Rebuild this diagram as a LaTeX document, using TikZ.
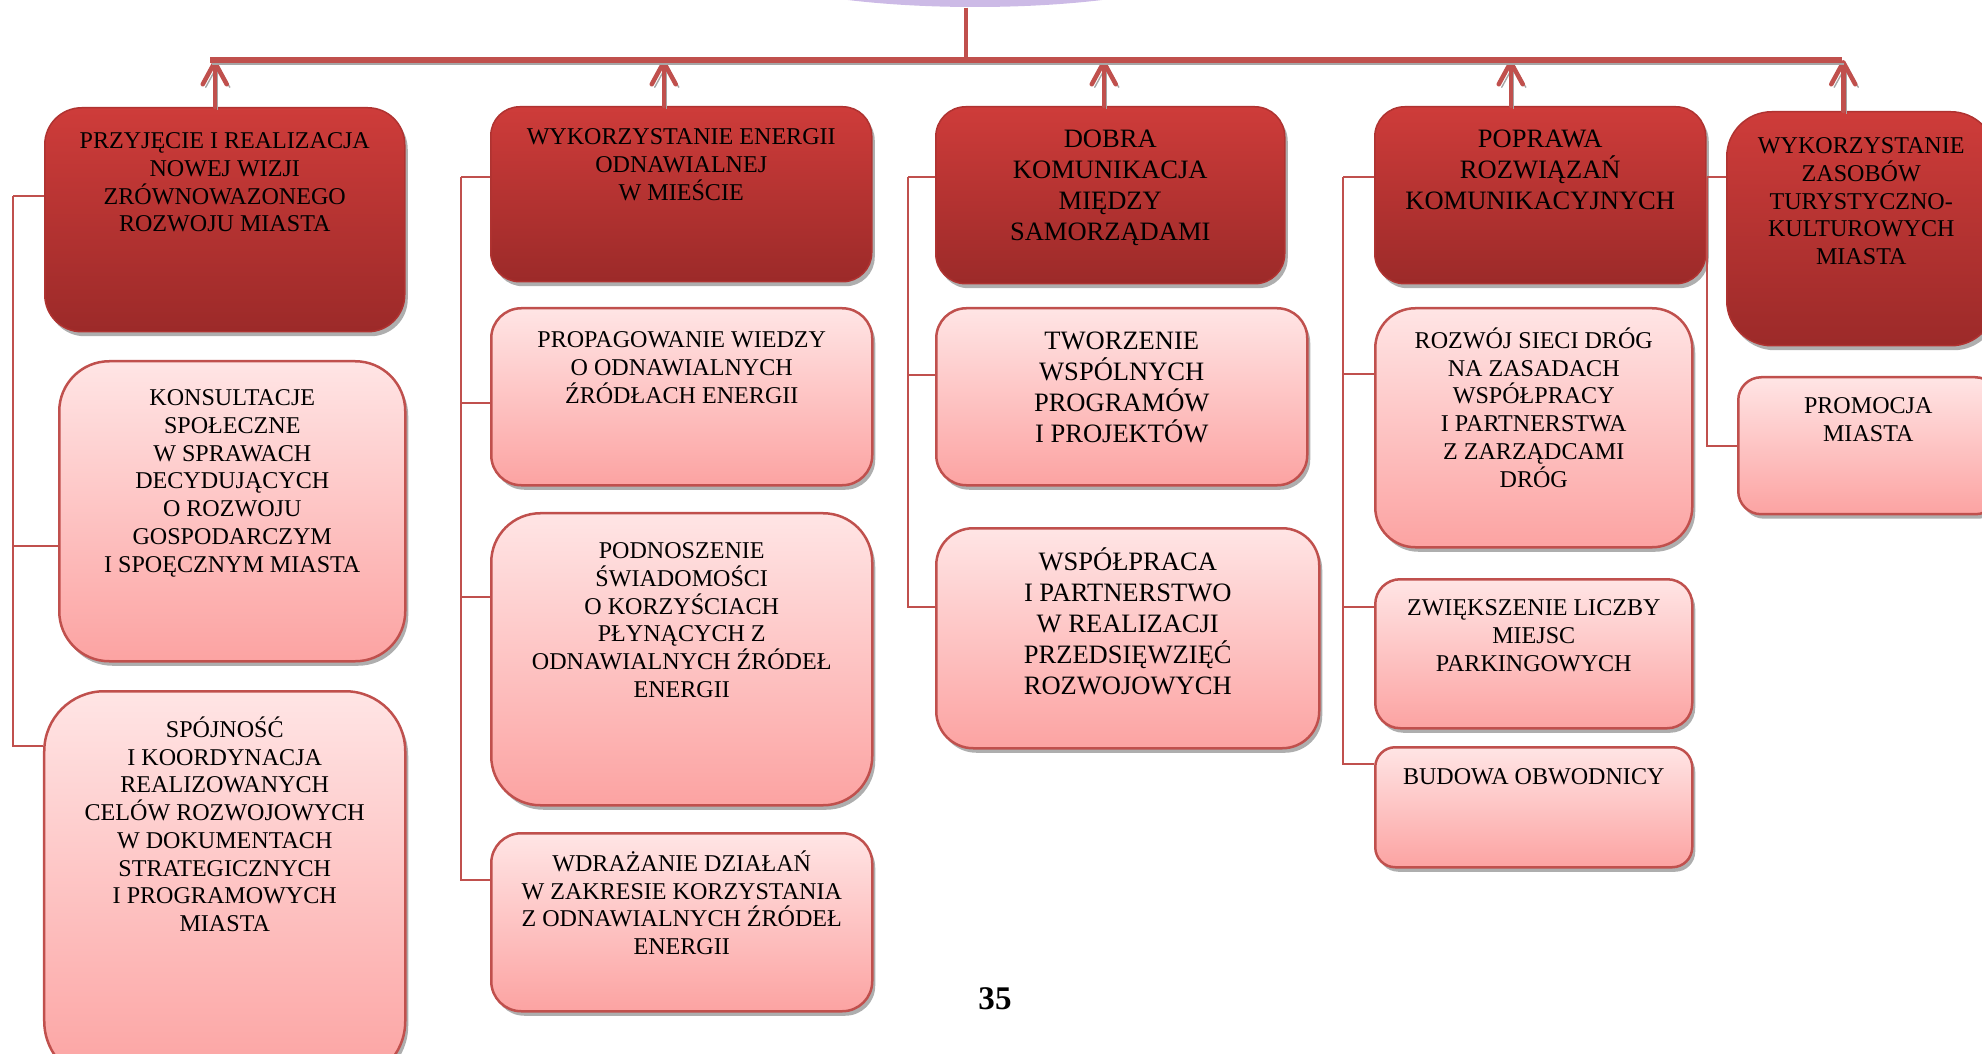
\documentclass[tikz,border=0pt]{standalone}
\usepackage{fontspec}
\setmainfont{Liberation Serif}
\usetikzlibrary{positioning,shadows,arrows.meta,shapes.geometric}
\definecolor{linered}{RGB}{192,80,77}
\definecolor{hdrtop}{RGB}{206,60,58}
\definecolor{hdrbot}{RGB}{156,42,41}
\definecolor{subtop}{RGB}{255,229,229}
\definecolor{subbot}{RGB}{252,163,162}
\definecolor{lilac}{RGB}{204,186,230}
\newcommand{\smallfont}{\fontsize{6.85}{7.9}\selectfont}
\newcommand{\bigfont}{\fontsize{7.55}{8.8}\selectfont}
\tikzset{
  box/.style={rectangle, anchor=north west, inner sep=0pt,
    drop shadow={shadow xshift=0.3mm, shadow yshift=-0.45mm, fill=black!45, opacity=0.7}},
  hdr/.style={box, draw=hdrtop!85!black, line width=0.15mm, top color=hdrtop, bottom color=hdrbot},
  sub/.style={box, draw=linered, line width=0.25mm, top color=subtop, bottom color=subbot},
  txt/.style={inner sep=0pt, align=center, font=\smallfont},
  bigtxt/.style={txt, font=\bigfont},
  link/.style={draw=linered, line width=0.2mm},
  stem/.style={draw=linered, line width=0.45mm},
  bar/.style={draw=linered, line width=0.6mm,
    preaction={draw=black!35, transform canvas={shift={(0.2mm,-0.4mm)}}}},
  up/.style={stem, line cap=round, -{Straight Barb[length=2.2mm,width=2.4mm,round]},
    preaction={draw=black!35, transform canvas={shift={(0.3mm,-0.3mm)}}}},
}
\begin{document}
\begin{tikzpicture}
\useasboundingbox (0,0) rectangle (19.82,-10.54);
% top
\node[ellipse, fill=lilac, inner sep=0pt, minimum width=4.98cm, minimum height=1cm] (root) at (9.75,0.43) {};
\coordinate (barL) at (2.10,-0.60);
\coordinate (barR) at (18.42,-0.60);

% headers
\node[hdr, minimum width=3.60cm, minimum height=2.24cm, rounded corners=3.7mm] (b1) at (0.44,-1.07) {};
\node[hdr, minimum width=3.81cm, minimum height=1.75cm, rounded corners=2.9mm] (b2) at (4.90,-1.06) {};
\node[hdr, minimum width=3.49cm, minimum height=1.77cm, rounded corners=3.0mm] (b3) at (9.35,-1.06) {};
\node[hdr, minimum width=3.31cm, minimum height=1.77cm, rounded corners=3.0mm] (b4) at (13.74,-1.06) {};
\node[hdr, minimum width=2.69cm, minimum height=2.34cm, rounded corners=4.5mm] (b5) at (17.26,-1.11) {};

% sub boxes
\node[sub, minimum width=3.46cm, minimum height=3.00cm, rounded corners=5.0mm] (s11) at (0.58,-3.60) {};
\node[sub, minimum width=3.61cm, minimum height=3.90cm, rounded corners=6.0mm] (s12) at (0.43,-6.90) {};
\node[sub, minimum width=3.81cm, minimum height=1.77cm, rounded corners=3.0mm] (s21) at (4.90,-3.07) {};
\node[sub, minimum width=3.81cm, minimum height=2.92cm, rounded corners=4.9mm] (s22) at (4.90,-5.12) {};
\node[sub, minimum width=3.81cm, minimum height=1.78cm, rounded corners=3.0mm] (s23) at (4.90,-8.32) {};
\node[sub, minimum width=3.71cm, minimum height=1.77cm, rounded corners=3.0mm] (s31) at (9.35,-3.07) {};
\node[sub, minimum width=3.83cm, minimum height=2.20cm, rounded corners=3.7mm] (s32) at (9.35,-5.27) {};
\node[sub, minimum width=3.17cm, minimum height=2.39cm, rounded corners=4.0mm] (s41) at (13.74,-3.07) {};
\node[sub, minimum width=3.17cm, minimum height=1.49cm, rounded corners=2.5mm] (s42) at (13.74,-5.78) {};
\node[sub, minimum width=3.17cm, minimum height=1.20cm, rounded corners=2.0mm] (s43) at (13.74,-7.46) {};
\node[sub, minimum width=2.60cm, minimum height=1.37cm, rounded corners=2.3mm] (s51) at (17.37,-3.76) {};

% texts
\node[txt, below=2.5mm of b1.north] (b1t) {PRZYJĘCIE I REALIZACJA\\NOWEJ WIZJI\\ZRÓWNOWAZONEGO\\ROZWOJU MIASTA};
\node[txt, below=2.2mm of b2.north] (b2t) {WYKORZYSTANIE ENERGII\\ODNAWIALNEJ\\W MIEŚCIE};
\node[bigtxt, below=2.3mm of b3.north] (b3t) {DOBRA\\KOMUNIKACJA\\MIĘDZY\\SAMORZĄDAMI};
\node[bigtxt, below=2.3mm of b4.north] (b4t) {POPRAWA\\ROZWIĄZAŃ\\KOMUNIKACYJNYCH};
\node[txt, below=2.6mm of b5.north] (b5t) {WYKORZYSTANIE\\ZASOBÓW\\TURYSTYCZNO-\\KULTUROWYCH\\MIASTA};
\node[txt, below=2.9mm of s11.north] (s11t) {KONSULTACJE\\SPOŁECZNE\\W SPRAWACH\\DECYDUJĄCYCH\\O ROZWOJU\\GOSPODARCZYM\\I SPOĘCZNYM MIASTA};
\node[txt, below=2.6mm of s12.north] (s12t) {SPÓJNOŚĆ\\I KOORDYNACJA\\REALIZOWANYCH\\CELÓW ROZWOJOWYCH\\W DOKUMENTACH\\STRATEGICZNYCH\\I PROGRAMOWYCH\\MIASTA};
\node[txt, below=2.4mm of s21.north] (s21t) {PROPAGOWANIE WIEDZY\\O ODNAWIALNYCH\\ŹRÓDŁACH ENERGII};
\node[txt, below=3.0mm of s22.north] (s22t) {PODNOSZENIE\\ŚWIADOMOŚCI\\O KORZYŚCIACH\\PŁYNĄCYCH Z\\ODNAWIALNYCH ŹRÓDEŁ\\ENERGII};
\node[txt, below=1.8mm of s23.north] (s23t) {WDRAŻANIE DZIAŁAŃ\\W ZAKRESIE KORZYSTANIA\\Z ODNAWIALNYCH ŹRÓDEŁ\\ENERGII};
\node[bigtxt, below=2.4mm of s31.north] (s31t) {TWORZENIE\\WSPÓLNYCH\\PROGRAMÓW\\I PROJEKTÓW};
\node[bigtxt, below=2.0mm of s32.north] (s32t) {WSPÓŁPRACA\\I PARTNERSTWO\\W REALIZACJI\\PRZEDSIĘWZIĘĆ\\ROZWOJOWYCH};
\node[txt, below=2.0mm of s41.north] (s41t) {ROZWÓJ SIECI DRÓG\\NA ZASADACH\\WSPÓŁPRACY\\I PARTNERSTWA\\Z ZARZĄDCAMI\\DRÓG};
\node[txt, below=2.1mm of s42.north] (s42t) {ZWIĘKSZENIE LICZBY\\MIEJSC\\PARKINGOWYCH};
\node[txt, below=2.2mm of s43.north] (s43t) {BUDOWA OBWODNICY};
\node[txt, below=2.1mm of s51.north] (s51t) {PROMOCJA\\MIASTA};
\node[font=\bfseries\fontsize{9.4}{11}\selectfont] (page) at (9.95,-9.99) {35};

% brackets
\coordinate (k1) at (0.13,-1.96);
\coordinate (k2) at (4.61,-1.77);
\coordinate (k3) at (9.08,-1.77);
\coordinate (k4) at (13.43,-1.77);
\coordinate (k5) at (17.07,-1.77);
\foreach \n/\y in {b1/1.96, s11/5.46, s12/7.46}
  \draw[link] (\n.west |- 0,-\y) -| (k1);
\foreach \n/\y in {b2/1.77, s21/4.03, s22/5.97, s23/8.80}
  \draw[link] (\n.west |- 0,-\y) -| (k2);
\foreach \n/\y in {b3/1.77, s31/3.75, s32/6.07}
  \draw[link] (\n.west |- 0,-\y) -| (k3);
\foreach \n/\y in {b4/1.77, s41/3.74, s42/6.07, s43/7.64}
  \draw[link] (\n.west |- 0,-\y) -| (k4);
\foreach \n/\y in {b5/1.77, s51/4.46}
  \draw[link] (\n.west |- 0,-\y) -| (k5);

% arrows up to the bar
\path ([xshift=-0.9mm]root.south) coordinate (rootfoot);
\draw[stem] (rootfoot) -- (rootfoot |- barL);
\foreach \n/\s in {b1/-1.0, b2/-1.75, b3/-0.65, b4/-2.95, b5/-1.8}{
  \path ([xshift=\s mm]\n.north) coordinate (foot);
  \draw[up] (foot) -- (foot |- barL);
}
\draw[bar] (barL) -- (barR);
\end{tikzpicture}
\end{document}
